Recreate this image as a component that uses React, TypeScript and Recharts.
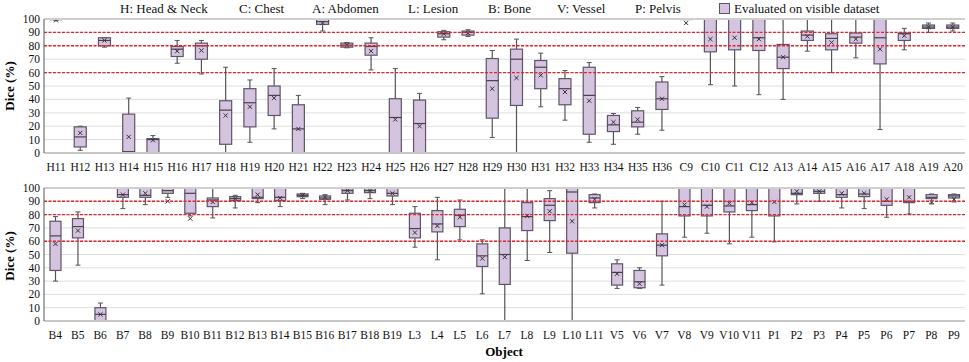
import { ComposedChart, Bar, XAxis, YAxis, CartesianGrid, ReferenceLine } from 'recharts';

const topNames = ['H11','H12','H13','H14','H15','H16','H17','H18','H19','H20','H21','H22','H23','H24','H25','H26','H27','H28','H29','H30','H31','H32','H33','H34','H35','H36','C9','C10','C11','C12','A13','A14','A15','A16','A17','A18','A19','A20'];
const topMin = [99,2,79,0,0,67,59,0,8,18,0,91,78.5,62,0,0,84.5,87,11.5,0,34.5,24.5,8,6.5,14,17,99.6,51,50,43.5,40,76,60,71,17.5,77,90,91];
const topQ1 = [99.5,4.5,80,0,0,72,70,6.5,19.5,28,0,96,79,73,0,0,86.5,88,26,35.5,48,36,14,16,19.5,32.5,99.6,75.5,77,76.5,63,84,77,82,66.5,84,93,93];
const topMed = [100,12,84,1,10,77.5,80,32,37.5,43,18,98,80.5,79.5,26.5,22,89,90,54,70,64,48,43,21,23,40.5,100,100,100,86,71.5,88,85.5,86.5,86,89,94,94];
const topQ3 = [100,19.5,86,29,10.7,79.5,82,39,48,50,36,100,82,82,40.5,39.5,90.5,91,70.5,77.5,69,55.5,64,28,31.5,53,100,100,100,100,81,91,89,89.5,100,89.5,95.5,95.5];
const topMax = [100,20,86,41,13,84,84,64,54.5,63,43,100,82.5,86,63,44.5,91.5,92,76.5,85,74.5,61.5,67.5,29.5,34,57,100,100,100,100,100,100,100,100,100,93,97,97];
const topMean = [99,15,84,12,9.5,76,76.5,28,34.5,41,18,97,80.5,76,25,20,89,89.5,48,56,58,45.5,39,23,25,40.5,97,85,86,85,71.5,87,82.5,85,77.5,87.5,94,94];

const botNames = ['B4','B5','B6','B7','B8','B9','B10','B11','B12','B13','B14','B15','B16','B17','B18','B19','L3','L4','L5','L6','L7','L8','L9','L10','L11','V5','V6','V7','V8','V9','V10','V11','P1','P2','P3','P4','P5','P6','P7','P8','P9'];
const botMin = [30,42,0,84.5,87.5,93,79,77.5,85,89,86,92,87.5,91,92,87.5,55.5,46,61,20.5,0,45.5,51.5,0,85,24.5,24.5,27,63,66,58,63,59.5,88,90,85,84.5,78,80.5,88,89.5];
const botQ1 = [38,62.5,0,93,93,96,81,86,90.5,92,90.5,93.5,91.5,96,96.5,94,62.5,67,71,41,27.5,68,75.5,51,89,27,25,49,79,79,82,83,79,95,96,93,93.5,87,89,92,92.5];
const botMed = [64,71,5,95,94.5,98,96,91,92,93,93,94.5,92.5,98,98,96,69.5,73,79.5,49,50,78.5,87,97,92.5,36.5,29.5,57,86,87,86.5,87.5,100,96,97.5,95,95.5,90,90,93,94];
const botQ3 = [75,77,10,100,100,100,100,92.5,93.5,100,100,95.5,94,99.5,99.5,100,81,83,84,58,70,89,92,100,95,43,38,65.5,100,100,100,100,100,100,100,100,100,100,100,95,95];
const botMax = [78.5,82,13.5,100,100,100,100,100,94.5,100,100,96,95,100,100,100,86,93,91,61,100,100,98,100,95.5,46,40,90,100,100,100,100,100,100,100,100,100,100,100,95.5,95.5];
const botMean = [58,68,5,95,96,90,77,89.5,92,95,92.5,94.5,93,98,98,96,66.5,71.5,78,47,48,79,82.5,75,91.5,35.5,28,57,87.5,86,88.5,89,89.5,97.5,97.5,96,96,91.5,93,89.5,91.5];

const yTicks = [0, 10, 20, 30, 40, 50, 60, 70, 80, 90, 100];
const redLines = [60, 80, 90];

const legendItems = [
  { label: 'H: Head & Neck', x: 120 },
  { label: 'C: Chest', x: 239 },
  { label: 'A: Abdomen', x: 312 },
  { label: 'L: Lesion', x: 408 },
  { label: 'B: Bone', x: 488 },
  { label: 'V: Vessel', x: 557 },
  { label: 'P: Pelvis', x: 635 },
];

const FONT = 'Liberation Serif';
const FILL = '#d5c4df';
const EDGE = '#5f5468';

function buildRows(names: string[], mn: number[], q1: number[], med: number[], q3: number[], mx: number[], mean: number[]) {
  return names.map((name, i) => ({ name, min: mn[i], q1: q1[i], med: med[i], q3: q3[i], max: mx[i], mean: mean[i] }));
}

const topData = buildRows(topNames, topMin, topQ1, topMed, topQ3, topMax, topMean);
const botData = buildRows(botNames, botMin, botQ1, botMed, botQ3, botMax, botMean);

// bar runs 0..max, so every other value is placed along that same span
function BoxShape(props: any) {
  const { x, y, width, height, payload } = props;
  if (!payload || !payload.max) return null;
  const py = (v: number) => y + height * (1 - v / payload.max);
  const cx = x + width / 2;
  const cap = 2.5;
  const m = 2.1;
  const yMean = py(payload.mean);
  return (
    <g>
      <line x1={cx} x2={cx} y1={py(payload.max)} y2={py(payload.q3)} stroke="#555" strokeWidth={1.2} />
      <line x1={cx} x2={cx} y1={py(payload.q1)} y2={py(payload.min)} stroke="#555" strokeWidth={1.2} />
      <line x1={cx - cap} x2={cx + cap} y1={py(payload.max)} y2={py(payload.max)} stroke="#555" />
      <line x1={cx - cap} x2={cx + cap} y1={py(payload.min)} y2={py(payload.min)} stroke="#555" />
      <rect x={x} y={py(payload.q3)} width={width} height={Math.max(py(payload.q1) - py(payload.q3), 0.5)}
        fill={FILL} stroke={EDGE} strokeWidth={1.2} />
      <line x1={x} x2={x + width} y1={py(payload.med)} y2={py(payload.med)} stroke="#4a4050" strokeWidth={1.2} />
      <line x1={cx - m} x2={cx + m} y1={yMean - m} y2={yMean + m} stroke="#333" />
      <line x1={cx - m} x2={cx + m} y1={yMean + m} y2={yMean - m} stroke="#333" />
    </g>
  );
}

const tickStyle = { fontSize: 11.5, fill: '#111', fontFamily: FONT };

function Panel({ data, height, top, bottom, barSize }: { data: any[]; height: number; top: number; bottom: number; barSize: number }) {
  return (
    <ComposedChart width={969} height={height} data={data} margin={{ top, right: 4, bottom, left: 0 }} style={{ fontFamily: FONT, overflow: 'visible' }}>
      <CartesianGrid vertical={false} stroke="#dedede" />
      <XAxis dataKey="name" interval={0} tickLine={false} tickMargin={4} height={20}
        axisLine={{ stroke: '#c8c8c8', strokeWidth: 2 }} tick={tickStyle} />
      <YAxis domain={[0, 100]} ticks={yTicks} width={44} tickLine={false} tickSize={2}
        axisLine={{ stroke: '#555' }} tick={tickStyle} interval={0} />
      <YAxis yAxisId="r" orientation="right" domain={[0, 100]} width={0} tick={false} tickLine={false}
        axisLine={{ stroke: '#c8c8c8', strokeWidth: 1.5 }} />
      <Bar dataKey="max" barSize={barSize} shape={BoxShape} isAnimationActive={false} />
      <ReferenceLine y={100} stroke="#cfcfcf" strokeWidth={2} />
      {redLines.map(v => (
        <ReferenceLine key={v} y={v} stroke="#e4262c" strokeWidth={1.4} strokeDasharray="3 1.5" />
      ))}
    </ComposedChart>
  );
}

const axisLabel = { position: 'absolute' as const, fontFamily: FONT, fontWeight: 'bold' as const, fontSize: 13, color: '#000' };

export default function App() {
  return (
    <div style={{ position: 'absolute', left: 0, top: 0, width: 969, height: 362, background: '#fff', overflow: 'hidden', fontFamily: FONT }}>
      {legendItems.map(d => (
        <span key={d.label} style={{ position: 'absolute', left: d.x, top: 1, fontSize: 13, color: '#111', whiteSpace: 'nowrap' }}>
          {d.label}
        </span>
      ))}
      <span style={{ position: 'absolute', left: 719, top: 3, width: 9, height: 9, background: FILL, border: `1px solid ${EDGE}` }} />
      <span style={{ position: 'absolute', left: 734, top: 1, fontSize: 13, color: '#111', whiteSpace: 'nowrap' }}>
        Evaluated on visible dataset
      </span>

      <div style={{ position: 'absolute', left: 0, top: 0 }}>
        <Panel data={topData} height={178} top={19} bottom={5} barSize={12} />
      </div>
      <div style={{ position: 'absolute', left: 0, top: 175 }}>
        <Panel data={botData} height={187} top={13} bottom={21} barSize={11} />
      </div>

      <div style={{ ...axisLabel, left: 10, top: 86, transform: 'translate(-50%, -50%) rotate(-90deg)', whiteSpace: 'nowrap' }}>Dice (%)</div>
      <div style={{ ...axisLabel, left: 10, top: 256, transform: 'translate(-50%, -50%) rotate(-90deg)', whiteSpace: 'nowrap' }}>Dice (%)</div>
      <div style={{ ...axisLabel, left: 504, top: 352, transform: 'translate(-50%, -50%)' }}>Object</div>
    </div>
  );
}
